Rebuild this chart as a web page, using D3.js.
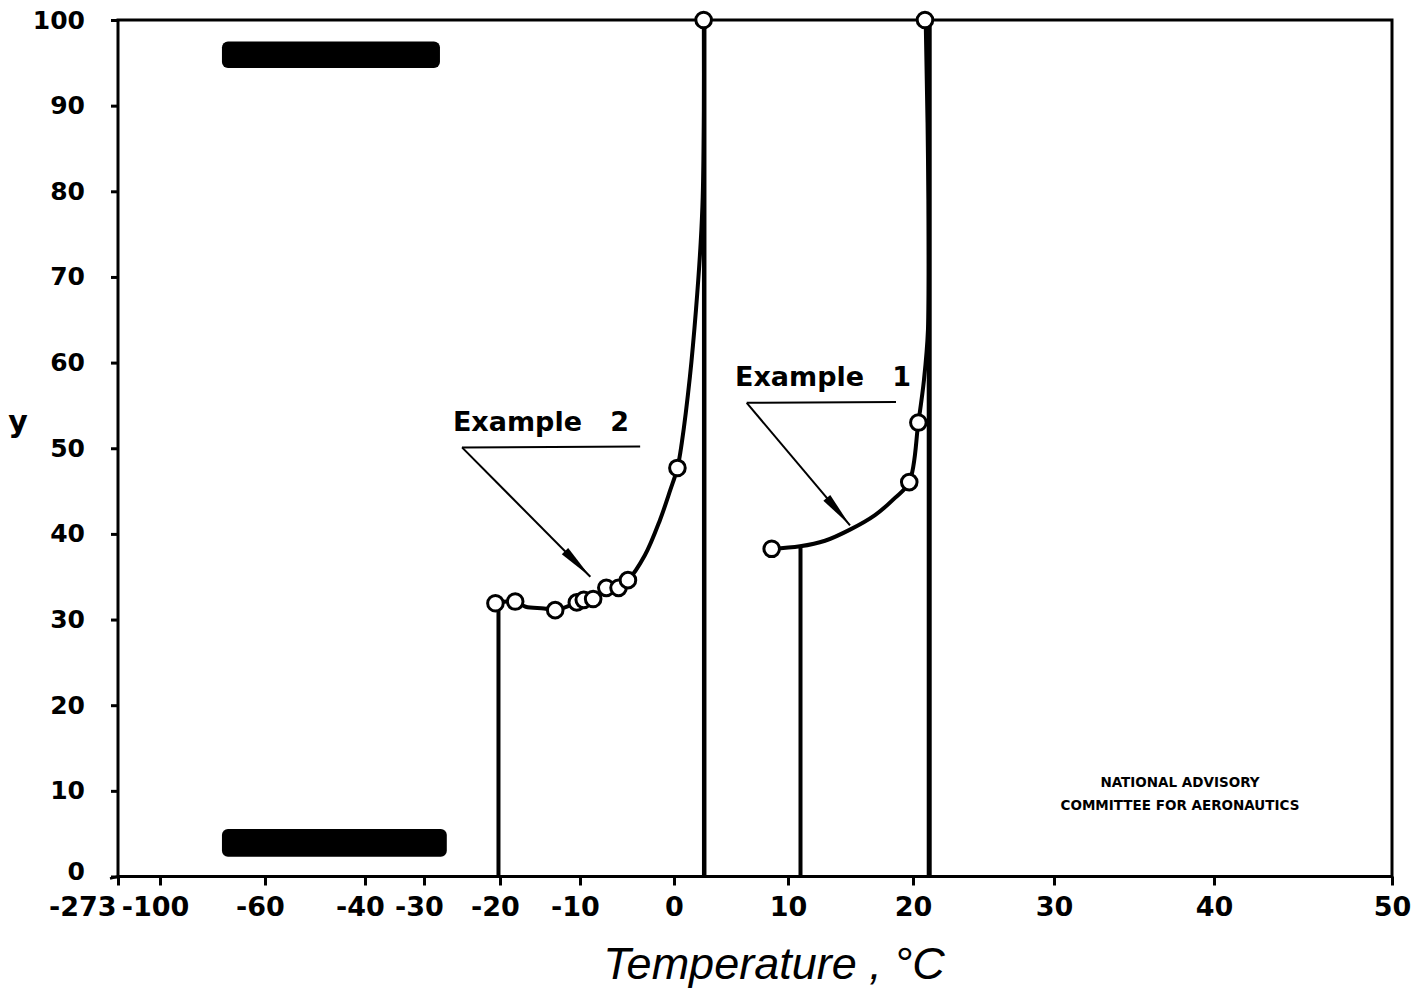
<!DOCTYPE html>
<html>
<head>
<meta charset="utf-8">
<script src="https://cdn.jsdelivr.net/npm/d3@7"></script>
<style>
  html, body { margin: 0; padding: 0; background: #fff; }
  svg { display: block; }
  text { fill: #000; }
</style>
</head>
<body>
<script>
// ---- Axis breakpoints (non-uniform temperature scale) ----
const tempTicks = [-273, -100, -60, -40, -30, -20, -10, 0, 10, 20, 30, 40, 50];
const yTicks = [0, 10, 20, 30, 40, 50, 60, 70, 80, 90, 100];

// ---- Example 2: measured points ----
const ex2Temp = [-20.6, -18.1, -13.1, -10.4, -9.6, -8.6, -7.2, -5.9, -4.9, 0.3, 2.6];
const ex2Y    = [31.9, 32.1, 31.1, 32.0, 32.3, 32.4, 33.7, 33.7, 34.6, 47.7, 100];
// Example 2: faired curve
const ex2CurveTemp = [-20.6, -18.1, -16.8, -14.5, -13.1, -10.4, -8.6, -7.2, -5.9, -4.9, -3.1, -1.5, -0.4, 0.3, 0.68, 1.4, 1.93, 2.34, 2.52, 2.62, 2.62];
const ex2CurveY    = [31.9, 32.1, 31.5, 31.3, 31.1, 31.95, 32.5, 33.3, 33.9, 34.6, 37.5, 41.6, 45.1, 47.7, 50.6, 58.4, 66.2, 74.0, 79.4, 89.5, 100];
// Example 2: vertical limits (temperature, top value)
const ex2LimitTemp = [-20.2, 2.65];
const ex2LimitTop  = [31.9, 100];

// ---- Example 1: measured points ----
const ex1Temp = [8.57, 19.7, 20.38, 20.85];
const ex1Y    = [38.26, 46.05, 53.0, 100];
// Example 1: faired curve
const ex1CurveTemp = [8.57, 10.96, 12.96, 14.96, 16.96, 18.56, 19.7, 20.38, 20.78, 21.06, 21.1, 20.9];
const ex1CurveY    = [38.26, 38.55, 39.2, 40.5, 42.2, 44.2, 46.05, 53.0, 58.0, 63.8, 79, 100];
// Example 1: vertical limits
const ex1LimitTemp = [11.0, 21.15];
const ex1LimitTop  = [38.55, 100];

// ---- Annotations: underline start/end, arrow tip, text anchor ----
const ex2Label = "Example\u00a0\u00a0 2";
const ex2Leader = { start: [-25.0, 50.1], end: [-3.6, 50.2], tip: [-8.9, 35.0], text: [-26.2, 52.0] };
const ex1Label = "Example\u00a0\u00a0 1";
const ex1Leader = { start: [6.38, 55.3], end: [18.64, 55.4], tip: [14.96, 41.0], text: [5.35, 57.3] };

// ---- Blacked-out bands (temperature span, value span) ----
const bandTemp = [[-76.4, -27.9], [-76.4, -27.0]];
const bandY    = [[94.4, 97.5], [2.3, 5.55]];

const W = 1425, H = 988;
const svg = d3.select("body").append("svg")
  .attr("width", W).attr("height", H)
  .style("background", "#fff");

// Piecewise-linear temperature scale
const x = d3.scaleLinear()
  .domain(tempTicks)
  .range([118, 160, 265, 365, 424, 500, 580, 674, 788, 913, 1054, 1214, 1392]);
const y = d3.scaleLinear().domain([0, 100]).range([876.5, 20]);

const FONT = "'DejaVu Sans', Verdana, sans-serif";

// ---- Frame ----
svg.append("rect")
  .attr("x", x(-273)).attr("y", y(100))
  .attr("width", x(50) - x(-273)).attr("height", y(0) - y(100))
  .attr("fill", "none").attr("stroke", "#000").attr("stroke-width", 3);
svg.append("line")
  .attr("x1", x(-273) - 8).attr("x2", x(-273))
  .attr("y1", y(0) + 2).attr("y2", y(0))
  .attr("stroke", "#000").attr("stroke-width", 2.5);

// ---- X axis ----
const gx = svg.append("g")
  .attr("transform", `translate(0,${y(0)})`)
  .call(d3.axisBottom(x).tickValues(tempTicks).tickSize(9).tickPadding(11)
    .tickFormat(d => String(d)));
gx.select(".domain").remove();
gx.selectAll(".tick line").attr("stroke", "#000").attr("stroke-width", 3);
gx.selectAll(".tick text")
  .attr("font-family", FONT).attr("font-weight", "bold").attr("font-size", 27)
  .attr("fill", "#000")
  .attr("text-anchor", d => d === -273 ? "end" : "middle")
  .attr("dx", d => d === -273 ? -2 : (d < 0 ? -5 : 0));

// ---- Y axis ----
const gy = svg.append("g")
  .attr("transform", `translate(${x(-273)},0)`)
  .call(d3.axisLeft(y).tickValues(yTicks).tickSize(7).tickPadding(26)
    .tickFormat(d => String(d)));
gy.select(".domain").remove();
gy.selectAll(".tick line").attr("stroke", "#000").attr("stroke-width", 3);
gy.selectAll(".tick text")
  .attr("font-family", FONT).attr("font-weight", "bold").attr("font-size", 25)
  .attr("fill", "#000");
// lift the zero label clear of the temperature labels
gy.selectAll(".tick text").filter(d => d === 0).attr("dy", "0.1em");

// Axis titles
svg.append("text")
  .attr("x", 774).attr("y", 979)
  .attr("text-anchor", "middle")
  .attr("font-family", "'Liberation Sans', Arial, sans-serif")
  .attr("font-style", "italic").attr("font-size", 45)
  .style("white-space", "pre")
  .text("Temperature , °C");
svg.append("text")
  .attr("x", 18).attr("y", 432)
  .attr("text-anchor", "middle")
  .attr("font-family", FONT).attr("font-weight", "bold").attr("font-size", 30)
  .text("y");

// ---- Blacked-out bands ----
bandTemp.forEach((t, i) => {
  svg.append("rect")
    .attr("x", x(t[0])).attr("y", y(bandY[i][1]))
    .attr("width", x(t[1]) - x(t[0])).attr("height", y(bandY[i][0]) - y(bandY[i][1]))
    .attr("rx", 6).attr("ry", 6)
    .attr("fill", "#000");
});

// ---- Vertical limit lines ----
function limits(temps, tops, widths) {
  temps.forEach((t, i) => {
    svg.append("line")
      .attr("x1", x(t)).attr("x2", x(t))
      .attr("y1", y(0)).attr("y2", y(tops[i]))
      .attr("stroke", "#000").attr("stroke-width", widths[i]);
  });
}
limits(ex2LimitTemp, ex2LimitTop, [4, 4.5]);
limits(ex1LimitTemp, ex1LimitTop, [4, 5]);

// ---- Curves ----
const line = d3.line()
  .x(d => x(d[0])).y(d => y(d[1]))
  .curve(d3.curveCatmullRom.alpha(0.5));
function curve(ts, ys) {
  svg.append("path")
    .datum(ts.map((t, i) => [t, ys[i]]))
    .attr("d", line)
    .attr("fill", "none").attr("stroke", "#000")
    .attr("stroke-width", 4).attr("stroke-linejoin", "round").attr("stroke-linecap", "round");
}
curve(ex2CurveTemp, ex2CurveY);
curve(ex1CurveTemp, ex1CurveY);

// ---- Points ----
function points(ts, ys) {
  svg.append("g").selectAll("circle")
    .data(ts.map((t, i) => [t, ys[i]]))
    .join("circle")
    .attr("cx", d => x(d[0])).attr("cy", d => y(d[1]))
    .attr("r", 7.8)
    .attr("fill", "#fff").attr("stroke", "#000").attr("stroke-width", 3);
}
points(ex2Temp, ex2Y);
points(ex1Temp, ex1Y);

// ---- Annotations ----
function leader(lbl, L) {
  const p0 = [x(L.start[0]), y(L.start[1])];
  const p1 = [x(L.end[0]), y(L.end[1])];
  const tip = [x(L.tip[0]), y(L.tip[1])];
  svg.append("line")
    .attr("x1", p0[0]).attr("y1", p0[1]).attr("x2", p1[0]).attr("y2", p1[1])
    .attr("stroke", "#000").attr("stroke-width", 2);
  svg.append("line")
    .attr("x1", p0[0]).attr("y1", p0[1]).attr("x2", tip[0]).attr("y2", tip[1])
    .attr("stroke", "#000").attr("stroke-width", 2);
  // long narrow arrowhead
  const dx = tip[0] - p0[0], dy = tip[1] - p0[1];
  const len = Math.hypot(dx, dy), ux = dx / len, uy = dy / len;
  const hl = 36, hw = 4.5;
  const bx = tip[0] - ux * hl, by = tip[1] - uy * hl;
  svg.append("polygon")
    .attr("points", [
      [tip[0], tip[1]],
      [bx - uy * hw, by + ux * hw],
      [bx + uy * hw, by - ux * hw]
    ].map(p => p.join(",")).join(" "))
    .attr("fill", "#000");
  svg.append("text")
    .attr("x", x(L.text[0])).attr("y", y(L.text[1]))
    .attr("font-family", FONT).attr("font-weight", "bold").attr("font-size", 27)
    .style("white-space", "pre")
    .text(lbl);
}
leader(ex2Label, ex2Leader);
leader(ex1Label, ex1Leader);

// ---- Credit ----
const credit = svg.append("text")
  .attr("text-anchor", "middle")
  .attr("font-family", FONT).attr("font-weight", "bold").attr("font-size", 13.5);
credit.append("tspan").attr("x", 1180).attr("y", 787).text("NATIONAL ADVISORY");
credit.append("tspan").attr("x", 1180).attr("y", 810).text("COMMITTEE FOR AERONAUTICS");
</script>
</body>
</html>
